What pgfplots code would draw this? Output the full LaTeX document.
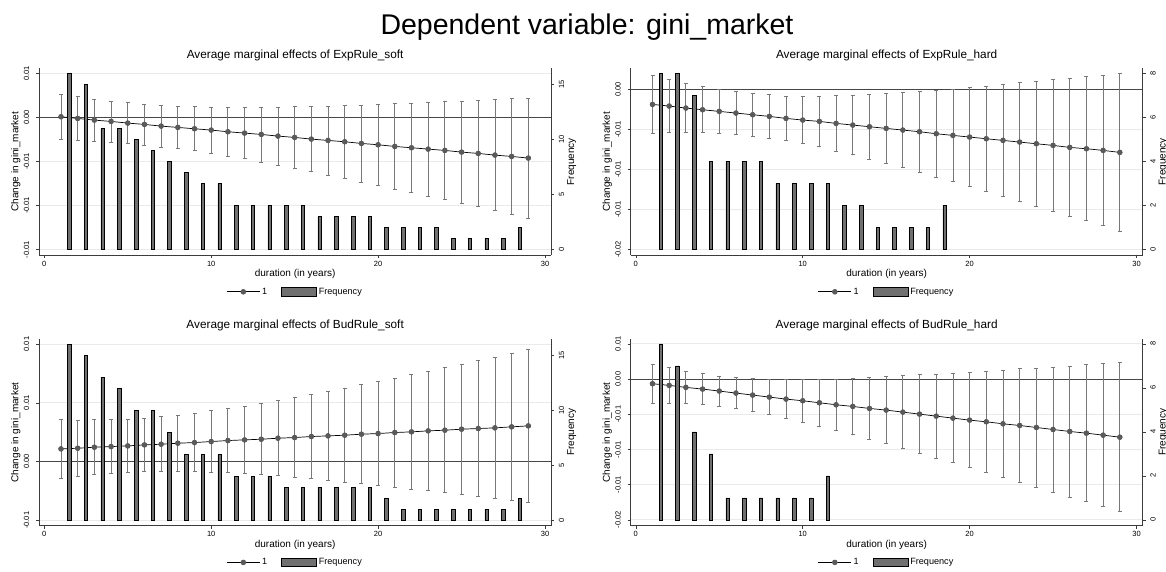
\documentclass[border=0pt]{standalone}
\usepackage{pgfplots}
\pgfplotsset{compat=1.18}
\usepackage{pgfplotstable}
\usepackage{fontspec}
\setmainfont{Liberation Sans}
\definecolor{mcol}{RGB}{90,90,90}
\definecolor{cicol}{RGB}{120,120,120}
\definecolor{zcol}{RGB}{70,70,70}
\definecolor{gcol}{RGB}{234,234,234}
\definecolor{bfill}{RGB}{112,112,112}
\definecolor{axcol}{RGB}{60,60,60}

\pgfplotstableread{
x y e
1 0.076 2.576
2 -0.114 2.462
3 -0.303 2.405
4 -0.455 2.330
5 -0.644 2.348
6 -0.795 2.330
7 -0.985 2.367
8 -1.136 2.405
9 -1.288 2.500
10 -1.439 2.633
11 -1.629 2.765
12 -1.780 2.917
13 -1.932 3.125
14 -2.121 3.295
15 -2.273 3.504
16 -2.462 3.674
17 -2.614 3.920
18 -2.765 4.129
19 -2.955 4.375
20 -3.106 4.602
21 -3.296 4.848
22 -3.447 5.095
23 -3.599 5.322
24 -3.750 5.568
25 -3.939 5.814
26 -4.091 6.061
27 -4.280 6.307
28 -4.432 6.572
29 -4.621 6.837
}\meA
\pgfplotstableread{
x f
1.5 16
2.5 15
3.5 11
4.5 11
5.5 10
6.5 9
7.5 8
8.5 7
9.5 6
10.5 6
11.5 4
12.5 4
13.5 4
14.5 4
15.5 4
16.5 3
17.5 3
18.5 3
19.5 3
20.5 2
21.5 2
22.5 2
23.5 2
24.5 1
25.5 1
26.5 1
27.5 1
28.5 2
}\frA
\pgfplotstableread{
x y e
1 -1.875 3.583
2 -2.083 3.292
3 -2.333 3.042
4 -2.542 2.854
5 -2.750 2.688
6 -2.958 2.667
7 -3.167 2.646
8 -3.375 2.688
9 -3.625 2.792
10 -3.833 2.958
11 -4.000 3.167
12 -4.250 3.438
13 -4.458 3.708
14 -4.667 4.063
15 -4.875 4.375
16 -5.083 4.708
17 -5.292 5.063
18 -5.542 5.396
19 -5.750 5.792
20 -5.958 6.167
21 -6.167 6.583
22 -6.375 6.979
23 -6.583 7.396
24 -6.792 7.771
25 -7.000 8.208
26 -7.250 8.583
27 -7.417 9.000
28 -7.625 9.396
29 -7.875 9.833
}\meB
\pgfplotstableread{
x f
1.5 8
2.5 8
3.5 7
4.5 4
5.5 4
6.5 4
7.5 4
8.5 3
9.5 3
10.5 3
11.5 3
12.5 2
13.5 2
14.5 1
15.5 1
16.5 1
17.5 1
18.5 2
}\frB
\pgfplotstableread{
x y e
1 1.080 2.514
2 1.136 2.401
3 1.222 2.330
4 1.278 2.315
5 1.335 2.273
6 1.420 2.287
7 1.477 2.330
8 1.563 2.386
9 1.619 2.486
10 1.705 2.614
11 1.790 2.741
12 1.847 2.869
13 1.903 3.026
14 1.989 3.196
15 2.045 3.395
16 2.131 3.565
17 2.188 3.778
18 2.244 3.991
19 2.330 4.219
20 2.386 4.432
21 2.472 4.645
22 2.528 4.858
23 2.614 5.085
24 2.670 5.327
25 2.756 5.554
26 2.813 5.781
27 2.869 6.037
28 2.955 6.250
29 3.040 6.506
}\meC
\pgfplotstableread{
x f
1.5 16
2.5 15
3.5 13
4.5 12
5.5 10
6.5 10
7.5 8
8.5 6
9.5 6
10.5 6
11.5 4
12.5 4
13.5 4
14.5 3
15.5 3
16.5 3
17.5 3
18.5 3
19.5 3
20.5 2
21.5 1
22.5 1
23.5 1
24.5 1
25.5 1
26.5 1
27.5 1
28.5 2
}\frC
\pgfplotstableread{
x y e
1 -0.664 2.799
2 -0.901 2.491
3 -1.186 2.325
4 -1.423 2.182
5 -1.708 2.135
6 -1.992 2.182
7 -2.277 2.325
8 -2.562 2.491
9 -2.846 2.728
10 -3.084 3.012
11 -3.368 3.297
12 -3.653 3.629
13 -3.890 3.985
14 -4.175 4.341
15 -4.412 4.791
16 -4.697 5.147
17 -4.981 5.574
18 -5.266 5.954
19 -5.550 6.357
20 -5.835 6.784
21 -6.072 7.211
22 -6.357 7.614
23 -6.594 8.065
24 -6.879 8.444
25 -7.163 8.871
26 -7.448 9.298
27 -7.685 9.701
28 -7.970 10.128
29 -8.255 10.579
}\meD
\pgfplotstableread{
x f
1.5 8
2.5 7
3.5 4
4.5 3
5.5 1
6.5 1
7.5 1
8.5 1
9.5 1
10.5 1
11.5 2
}\frD

\pgfplotsset{
  base/.style={scale only axis, width=511.7pt, height=186.7pt, xmin=-0.3, xmax=30.36,
    axis line style={axcol, line width=0.8pt, -}, tick style={axcol, line width=0.6pt},
    major tick length=3pt, tick align=outside,
    tick label style={font=\fontsize{7.5}{9}\selectfont, black},
    label style={font=\fontsize{9.3}{11}\selectfont},
  },
  leftax/.style={base, axis x line*=bottom, axis y line*=left,
    xtick={0,10,20,30}, xticklabels={0,10,20,30},
    xticklabel style={anchor=north, inner sep=0pt}, xticklabel shift=2.6pt,
    yticklabel style={rotate=90, anchor=south, inner sep=0pt}, yticklabel shift=6.9pt,
    ymajorgrids, grid style={gcol, line width=0.8pt},
    xlabel={duration (in years)}, ylabel={Change in gini\_market},
    every axis x label/.style={at={(axis description cs:0.5,-0.1018)}, anchor=center},
    every axis y label/.style={at={(axis description cs:-0.0461,0.5)}, rotate=90, anchor=center},
    title style={at={(axis description cs:0.5,1)}, anchor=base, yshift=4.3pt, font=\fontsize{11.8}{14}\selectfont},
    legend columns=2,
    legend style={draw=none, fill=none, font=\fontsize{9.1}{11}\selectfont, at={(0.5,-0.1966)}, anchor=center,
      /tikz/every even column/.append style={column sep=12pt}},
  },
  rightax/.style={base, axis x line=none, axis y line*=right,
    yticklabel style={rotate=90, anchor=north, inner sep=0pt}, yticklabel shift=4.7pt,
    ylabel={Frequency},
    every axis y label/.style={at={(axis description cs:1.0404,0.5)}, rotate=90, anchor=center},
  },
  ciplot/.style={only marks, mark=none, forget plot,
    error bars/.cd, y dir=both, y explicit,
    error bar style={draw=cicol, line width=0.8pt},
    error mark options={draw=cicol, rotate=90, mark size=2pt, line width=0.8pt}},
  meplot/.style={black, line width=0.7pt, mark=*, mark size=2.4pt, mark options={fill=mcol, draw=mcol},
    legend image code/.code={\draw[mark repeat=2, mark phase=2, ##1] plot coordinates {(0pt,0pt) (16.5pt,0pt) (33pt,0pt)};}},
  zline/.style={zcol, line width=1pt, forget plot},
  frplot/.style={ybar, bar width=3.5pt, fill=bfill, draw=black, line width=0.6pt},
  boxlegend/.style={legend image code/.code={\draw[fill=bfill, draw=black, line width=0.6pt] (0pt,-4.3pt) rectangle (35pt,4.3pt);}},
}

\begin{document}
\begin{tikzpicture}
\path[use as bounding box] (0pt,0pt) rectangle (1166pt,572pt);
\node[anchor=base, font=\fontsize{28.5}{34}\selectfont] at (587pt,537pt) {Dependent variable: gini\_market};

% Panel A
\begin{axis}[leftax, at={(39.3pt,316.9pt)}, anchor=south west, ymin=-15.64, ymax=5.57,
  ytick={-15,-10,-5,0,5}, yticklabels={-0.01,-0.01,-0.01,0.00,0.01},
  title={Average marginal effects of ExpRule\_soft}]
\addplot[zline] coordinates {(-0.3,0) (30.36,0)};
\addplot[ciplot] table[x=x, y=y, y error=e] {\meA};
\addplot[meplot] table[x=x, y=y] {\meA};
\addlegendentry{1}
\addlegendimage{boxlegend}
\addlegendentry{Frequency}
\end{axis}
\begin{axis}[rightax, at={(39.3pt,316.9pt)}, anchor=south west, ymin=-0.512, ymax=16.456,
  ytick={0,5,10,15}, yticklabels={0,5,10,15}]
\addplot[frplot] table[x=x, y=f] {\frA};
\end{axis}

% Panel B
\begin{axis}[leftax, at={(630.8pt,316.9pt)}, anchor=south west, ymin=-20.708, ymax=2.625,
  ytick={-20,-15,-10,-5,0}, yticklabels={-0.02,-0.01,-0.01,-0.01,0.00},
  title={Average marginal effects of ExpRule\_hard}]
\addplot[zline] coordinates {(-0.3,0) (30.36,0)};
\addplot[ciplot] table[x=x, y=y, y error=e] {\meB};
\addplot[meplot] table[x=x, y=y] {\meB};
\addlegendentry{1}
\addlegendimage{boxlegend}
\addlegendentry{Frequency}
\end{axis}
\begin{axis}[rightax, at={(630.8pt,316.9pt)}, anchor=south west, ymin=-0.258, ymax=8.227,
  ytick={0,2,4,6,8}, yticklabels={0,2,4,6,8}]
\addplot[frplot] table[x=x, y=f] {\frB};
\end{axis}

% Panel C
\begin{axis}[leftax, at={(39.3pt,46.3pt)}, anchor=south west, ymin=-5.455, ymax=10.43,
  ytick={-5,0,5,10}, yticklabels={-0.01,0.00,0.01,0.01},
  title={Average marginal effects of BudRule\_soft}]
\addplot[zline] coordinates {(-0.3,0) (30.36,0)};
\addplot[ciplot] table[x=x, y=y, y error=e] {\meC};
\addplot[meplot] table[x=x, y=y] {\meC};
\addlegendentry{1}
\addlegendimage{boxlegend}
\addlegendentry{Frequency}
\end{axis}
\begin{axis}[rightax, at={(39.3pt,46.3pt)}, anchor=south west, ymin=-0.485, ymax=16.46,
  ytick={0,5,10,15}, yticklabels={0,5,10,15}]
\addplot[frplot] table[x=x, y=f] {\frC};
\end{axis}

% Panel D
\begin{axis}[leftax, at={(630.8pt,46.3pt)}, anchor=south west, ymin=-20.83, ymax=5.69,
  ytick={-20,-15,-10,-5,0,5}, yticklabels={-0.02,-0.01,-0.01,-0.01,0.00,0.01},
  title={Average marginal effects of BudRule\_hard}]
\addplot[zline] coordinates {(-0.3,0) (30.36,0)};
\addplot[ciplot] table[x=x, y=y, y error=e] {\meD};
\addplot[meplot] table[x=x, y=y] {\meD};
\addlegendentry{1}
\addlegendimage{boxlegend}
\addlegendentry{Frequency}
\end{axis}
\begin{axis}[rightax, at={(630.8pt,46.3pt)}, anchor=south west, ymin=-0.266, ymax=8.22,
  ytick={0,2,4,6,8}, yticklabels={0,2,4,6,8}]
\addplot[frplot] table[x=x, y=f] {\frD};
\end{axis}
\end{tikzpicture}
\end{document}
